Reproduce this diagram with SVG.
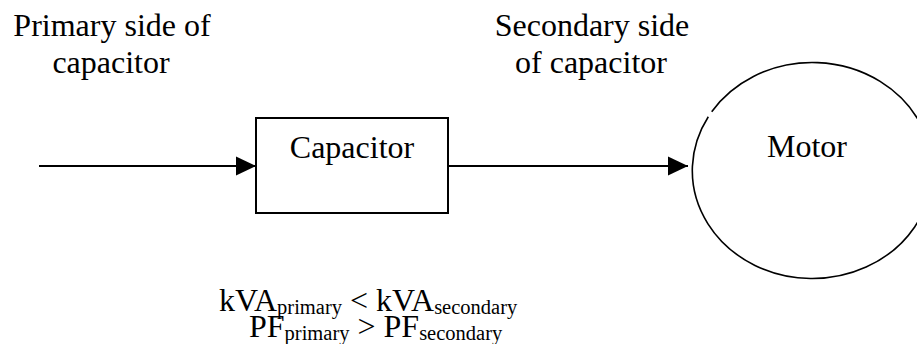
<svg xmlns="http://www.w3.org/2000/svg" width="917" height="344" viewBox="0 0 917 344">
<style>
text{font-family:"Liberation Serif","Times New Roman",serif;font-size:32px;fill:#000}
.c{text-anchor:middle}
.sub{font-size:20.5px}
.edge{stroke:#000;stroke-width:2;fill:none}
</style>
<defs>
<marker id="arr" markerUnits="userSpaceOnUse" markerWidth="20" markerHeight="20" refX="20" refY="10" orient="auto">
<path d="M0,0.5 L20,10 L0,19.5 Z" fill="#000"/>
</marker>
</defs>
<rect width="917" height="344" fill="#fff"/>
<g id="label-primary">
<text class="c" x="112" y="36">Primary side of</text>
<text class="c" x="111" y="73">capacitor</text>
</g>
<g id="label-secondary">
<text class="c" x="592" y="36">Secondary side</text>
<text class="c" x="591" y="73">of capacitor</text>
</g>
<g id="capacitor">
<rect x="256" y="118" width="192" height="95" fill="none" stroke="#000" stroke-width="2"/>
<text class="c" x="352" y="158">Capacitor</text>
</g>
<g id="motor">
<path d="M711.7,111.7 A120,108 0 1 1 708.3,116.7" fill="none" stroke="#000" stroke-width="1.6"/>
<text class="c" x="807" y="157">Motor</text>
</g>
<g id="connectors">
<line class="edge" x1="39" y1="166" x2="256" y2="166" marker-end="url(#arr)"/>
<line class="edge" x1="448" y1="166" x2="688" y2="166" marker-end="url(#arr)"/>
</g>
<g id="formulas">
<text x="219" y="311">kVA<tspan class="sub" dy="3">primary</tspan><tspan dy="-3"> &lt; kVA</tspan><tspan class="sub" dy="3">secondary</tspan></text>
<text x="249" y="337">PF<tspan class="sub" dy="3">primary</tspan><tspan dy="-3"> &gt; PF</tspan><tspan class="sub" dy="3">secondary</tspan></text>
</g>
</svg>
